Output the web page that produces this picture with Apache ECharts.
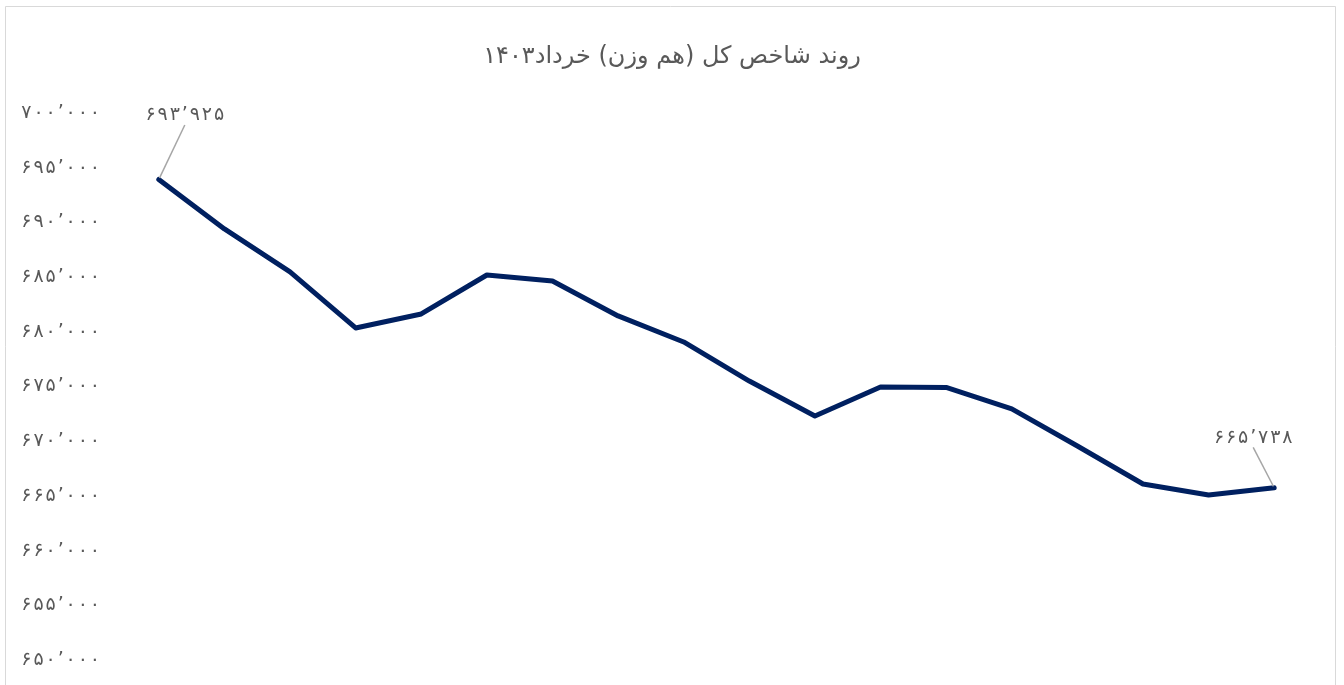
<!DOCTYPE html>
<html>
<head>
<meta charset="utf-8">
<script src="https://cdn.jsdelivr.net/npm/echarts@6/dist/echarts.min.js"></script>
<style>
  html, body { margin: 0; padding: 0; background: #ffffff; }
  #chart { width: 1344px; height: 685px; }
</style>
</head>
<body>
<div id="chart"></div>
<script>
// ---- data ----
const titleText = 'روند شاخص کل (هم وزن) خرداد۱۴۰۳';
const categories = ['۱','۲','۳','۴','۵','۶','۷','۸','۹','۱۰','۱۱','۱۲','۱۳','۱۴','۱۵','۱۶','۱۷','۱۸'];
const indexValues = [693925, 689400, 685470, 680350, 681630, 685190, 684640, 681450, 679070,
                     675500, 672300, 674960, 674910, 672950, 669560, 666090, 665080, 665738];
const yTicks = [650000, 655000, 660000, 665000, 670000, 675000, 680000, 685000, 690000, 695000, 700000];

const faDigits = '۰۱۲۳۴۵۶۷۸۹';
function toFa(n) {
  const s = Math.round(n).toString().replace(/\B(?=(\d{3})+(?!\d))/g, '’');
  return s.replace(/\d/g, d => faDigits[+d]).split('').join('\u200A');
}

const lastIdx = indexValues.length - 1;
const seriesData = indexValues.map((v, i) => ({
  value: v,
  label: { show: i === 0 || i === lastIdx },
  labelLine: { show: i === 0 || i === lastIdx }
}));

const chart = echarts.init(document.getElementById('chart'), null, { renderer: 'canvas' });
chart.setOption({
  backgroundColor: '#ffffff',
  animation: false,
  title: {
    text: titleText,
    left: 'center',
    top: 40,
    textStyle: { fontFamily: 'DejaVu Sans', fontSize: 24, fontWeight: 'normal', color: '#595959' }
  },
  graphic: [{
    type: 'rect',
    shape: { x: 5.5, y: 6.5, width: 1330, height: 720 },
    style: { fill: 'none', stroke: '#d9d9d9', lineWidth: 1 },
    silent: true
  }],
  grid: { left: 126, right: 37, top: 113, bottom: 25, containLabel: false },
  xAxis: {
    type: 'category',
    data: categories,
    boundaryGap: true,
    axisLine: { show: false },
    axisTick: { show: false },
    axisLabel: { show: false },
    splitLine: { show: false }
  },
  yAxis: {
    type: 'value',
    min: 650000,
    max: 700000,
    interval: 5000,
    axisLine: { show: false },
    axisTick: { show: false },
    splitLine: { show: false },
    axisLabel: {
      margin: 26,
      color: '#595959',
      fontFamily: 'DejaVu Sans',
      fontSize: 19,
      padding: [5, 0, 0, 0],
      formatter: v => yTicks.indexOf(v) >= 0 ? toFa(v) : ''
    }
  },
  series: [{
    type: 'line',
    data: seriesData,
    showSymbol: true,
    symbol: 'circle',
    symbolSize: 3,
    lineStyle: { color: '#002060', width: 5, join: 'round', cap: 'round' },
    itemStyle: { color: '#002060' },
    label: {
      show: false,
      position: 'top',
      color: '#595959',
      fontFamily: 'DejaVu Sans',
      fontSize: 19,
      formatter: p => toFa(p.value)
    },
    labelLine: { show: false, lineStyle: { color: '#a6a6a6', width: 1.5 } },
    labelLayout: function (params) {
      if (params.dataIndex === 0) return { dx: 26, dy: -48 };
      if (params.dataIndex === lastIdx) return { dx: -21, dy: -34 };
      return {};
    }
  }]
});
</script>
</body>
</html>
